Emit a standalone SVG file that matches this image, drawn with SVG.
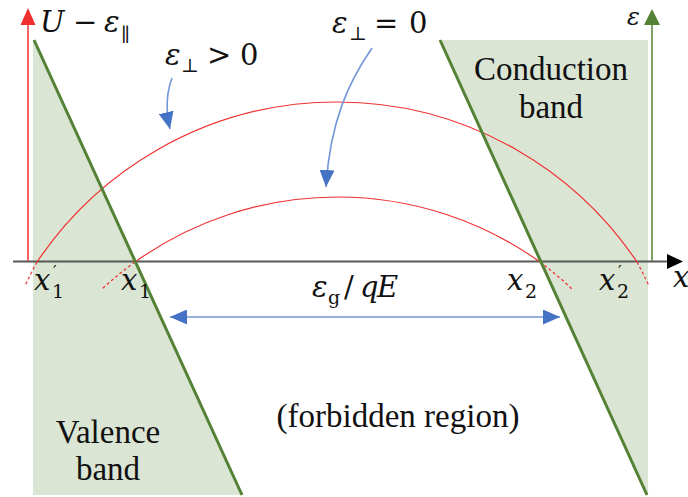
<svg xmlns="http://www.w3.org/2000/svg" width="688" height="497" viewBox="0 0 688 497">
<style>
.band{fill:#DAE5D3;stroke:none}
.edge{stroke:#548235;stroke-width:3;fill:none}
.arc{stroke:#F03030;stroke-width:1.2;fill:none}
.arcd{stroke:#F03030;stroke-width:1.2;fill:none;stroke-dasharray:3 2.5}
.txt{font-size:33px;fill:#111;text-anchor:middle}
.m{font-size:29px;fill:#111}
.i{font-style:italic}
.s{font-size:19px;font-style:normal}
.blue{stroke:#7396D6;stroke-width:1.6;fill:none}
</style>
<defs>
<marker id="bh" markerUnits="userSpaceOnUse" markerWidth="17" markerHeight="15" refX="17" refY="7.5" orient="auto-start-reverse" viewBox="0 0 17 15">
<path d="M0,0 L17,7.5 L0,15 z" fill="#4472C4"/>
</marker>
</defs>

<g id="valence-band">
<polygon class="band" points="33,40 242,495 33,495"/>
<text class="txt" font-family="Liberation Serif, DejaVu Serif, serif" x="108" y="443">Valence</text>
<text class="txt" font-family="Liberation Serif, DejaVu Serif, serif" x="108" y="480">band</text>
</g>

<g id="conduction-band">
<polygon class="band" points="440,40 648,40 648,495 647,495"/>
<text class="txt" font-family="Liberation Serif, DejaVu Serif, serif" x="551" y="80">Conduction</text>
<text class="txt" font-family="Liberation Serif, DejaVu Serif, serif" x="551" y="118">band</text>
</g>

<g id="axes">
<line x1="13" y1="261.5" x2="668" y2="261.5" stroke="#595959" stroke-width="2"/>
<polygon points="667,254 683,261.5 667,269" fill="#000"/>
<line x1="28" y1="261" x2="28" y2="22" stroke="#F03030" stroke-width="1.5"/>
<polygon points="20.5,25 28,8 35.5,25" fill="#F03030"/>
<line x1="652" y1="261" x2="652" y2="22" stroke="#548235" stroke-width="1.5"/>
<polygon points="644,25 652,9 660,25" fill="#548235"/>
<text class="m" font-family="DejaVu Serif, serif" x="673" y="287"><tspan class="i">x</tspan></text>
<text class="m" font-family="DejaVu Serif, serif" x="40" y="32"><tspan class="i">U</tspan><tspan x="73">−</tspan><tspan class="i" x="104">ε</tspan><tspan class="s" x="121" y="41">∥</tspan></text>
<text class="m i" font-family="DejaVu Serif, serif" x="627" y="25" style="font-size:24px">ε</text>
</g>

<g id="outer-arc">
<path class="arc" d="M37,262 A361.25,361.25 0 0 1 637,262"/>
<path class="arcd" d="M37,262 A361.25,361.25 0 0 0 25,286"/>
<path class="arcd" d="M637,262 A361.25,361.25 0 0 1 649,286"/>
<text class="m" font-family="DejaVu Serif, serif" x="165" y="65"><tspan class="i">ε</tspan><tspan class="s" x="181" y="72">⊥</tspan><tspan x="207" y="65">&gt;</tspan><tspan x="240">0</tspan></text>
</g>

<g id="inner-arc">
<path class="arc" d="M135,262 A347.9,347.9 0 0 1 540,262"/>
<path class="arcd" d="M135,262 A347.9,347.9 0 0 0 102,289"/>
<path class="arcd" d="M540,262 A347.9,347.9 0 0 1 572,289"/>
<text class="m" font-family="DejaVu Serif, serif" x="332" y="33"><tspan class="i">ε</tspan><tspan class="s" x="349" y="40">⊥</tspan><tspan x="374" y="33">=</tspan><tspan x="409">0</tspan></text>
</g>

<g id="band-edges">
<line class="edge" x1="34" y1="40" x2="242" y2="495"/>
<line class="edge" x1="440" y1="40" x2="647" y2="495"/>
</g>

<g id="points">
<text class="m" font-family="DejaVu Serif, serif" x="34" y="290"><tspan class="i">x</tspan><tspan class="s" x="52" y="298">1</tspan><tspan class="s" x="53" y="277" style="font-size:16px">′</tspan></text>
<text class="m" font-family="DejaVu Serif, serif" x="121" y="290"><tspan class="i">x</tspan><tspan class="s" x="139" y="298">1</tspan></text>
<text class="m" font-family="DejaVu Serif, serif" x="507" y="290"><tspan class="i">x</tspan><tspan class="s" x="525" y="298">2</tspan></text>
<text class="m" font-family="DejaVu Serif, serif" x="599" y="290"><tspan class="i">x</tspan><tspan class="s" x="617" y="298">2</tspan><tspan class="s" x="618" y="277" style="font-size:16px">′</tspan></text>
</g>

<g id="gap">
<text class="m" font-family="DejaVu Serif, serif" x="312" y="297"><tspan class="i">ε</tspan><tspan class="s i" x="328" y="304">g</tspan><tspan x="344" y="297">/</tspan><tspan class="i" x="360">q</tspan><tspan class="i" x="377">E</tspan></text>
<text class="txt" font-family="Liberation Serif, DejaVu Serif, serif" x="398" y="427">(forbidden region)</text>
</g>

<g id="connectors">
<line class="blue" x1="170" y1="317" x2="560" y2="317" marker-start="url(#bh)" marker-end="url(#bh)"/>
<path class="blue" d="M172,78 C166,94 166,112 170,129" marker-end="url(#bh)"/>
<path class="blue" d="M372,48 C350,80 330,120 326,187" marker-end="url(#bh)"/>
</g>
</svg>
